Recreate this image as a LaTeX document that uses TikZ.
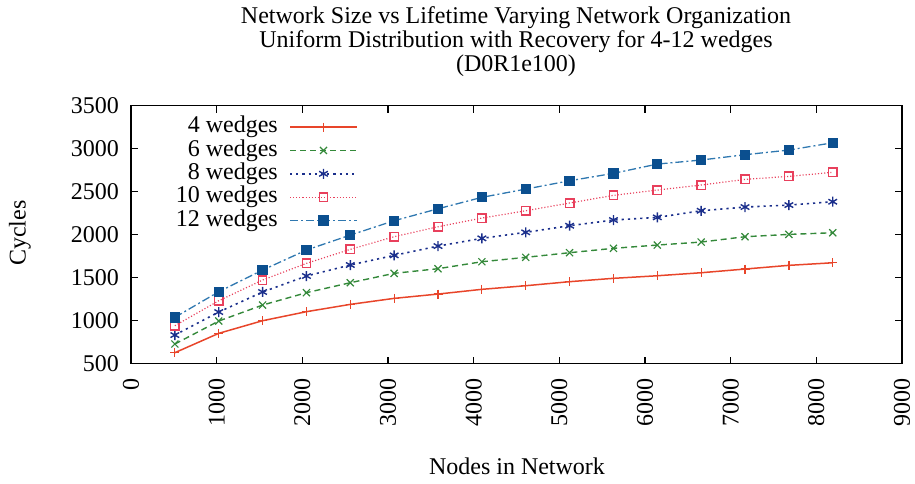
\documentclass[tikz,border=0pt]{standalone}
\usepackage{fontspec}
\setmainfont{Liberation Serif}
\usetikzlibrary{plotmarks}

\definecolor{cfour}{HTML}{E8452A}
\definecolor{csix}{HTML}{34893A}
\definecolor{ceight}{HTML}{1B2F8C}
\definecolor{cten}{HTML}{E8405C}
\definecolor{ctwelve}{HTML}{2F78B0}
\definecolor{ctwelvemk}{HTML}{0B4F8F}

\tikzset{
  lbl/.style={font=\fontsize{24}{24}\selectfont, inner sep=0pt},
  axisline/.style={line width=1.5pt, black},
  tickline/.style={line width=1.3pt, black},
  sfour/.style={cfour, line width=1.5pt, mark=+, mark size=4.5pt,
    mark options={solid, draw=cfour, line width=1.2pt}},
  ssix/.style={csix, line width=1.4pt, dash pattern=on 6pt off 4pt,
    mark=x, mark size=5pt, mark options={solid, draw=csix, line width=1.2pt}},
  seight/.style={ceight, line width=1.6pt, dash pattern=on 2.2pt off 4pt,
    mark=asterisk, mark size=5pt, mark options={solid, draw=ceight, line width=1.4pt}},
  sten/.style={cten, line width=1.2pt, dash pattern=on 1.1pt off 2pt,
    mark=square, mark size=4.2pt, mark options={solid, draw=cten, line width=1.4pt}},
  stwelve/.style={ctwelve, line width=1.3pt, dash pattern=on 8pt off 3pt on 2pt off 3pt,
    mark=square*, mark size=4.5pt, mark options={solid, draw=ctwelvemk, fill=ctwelvemk}},
}

\begin{document}
\begin{tikzpicture}[x=1pt, y=-1pt]
  \useasboundingbox (0,0) rectangle (915,483);

  % title
  \node[lbl, align=center] (title) at (516,42)
    {Network Size vs Lifetime Varying Network Organization\\
     Uniform Distribution with Recovery for 4-12 wedges\\
     (D0R1e100)};

  % axis labels
  \node[lbl, rotate=90] (ylab) at (20,233) {Cycles};
  \node[lbl] (xlab) at (517,466) {Nodes in Network};

  % frame
  \draw[axisline] (131,105.6) rectangle (902,363.5);

  \begin{scope}[shift={(131,406.5)}, x=0.085667pt, y=0.08597pt]
    % ticks and tick labels
    \foreach \v in {500,1000,...,3500}{
      \draw[tickline] (0,\v) -- ++(7pt,0);
      \draw[tickline] (9000,\v) -- ++(-7pt,0);
      \node[lbl, anchor=east] (yt\v) at ([xshift=-12pt]0,\v) {\v};
    }
    \foreach \v in {0,1000,...,9000}{
      \draw[tickline] (\v,500) -- ++(0,7pt);
      \draw[tickline] (\v,3500) -- ++(0,-7pt);
      \node[lbl, rotate=90, anchor=east] (xt\v) at ([yshift=-15pt]\v,500) {\v};
    }

    % data
    \draw[sfour] plot coordinates {(512,626) (1024,851) (1536,998) (2048,1103)
      (2560,1188) (3072,1258) (3584,1308) (4096,1363) (4608,1405) (5120,1452)
      (5632,1491) (6144,1521) (6656,1556) (7168,1599) (7680,1642) (8192,1672)};
    \draw[ssix] plot coordinates {(512,727) (1024,994) (1536,1180) (2048,1324)
      (2560,1440) (3072,1549) (3584,1603) (4096,1684) (4608,1735) (5120,1789)
      (5632,1840) (6144,1878) (6656,1913) (7168,1975) (7680,2002) (8192,2021)};
    \draw[seight] plot coordinates {(512,831) (1024,1099) (1536,1332) (2048,1518)
      (2560,1646) (3072,1758) (3584,1866) (4096,1956) (4608,2026) (5120,2103)
      (5632,2169) (6144,2200) (6656,2277) (7168,2320) (7680,2343) (8192,2382)};
    \draw[sten] plot coordinates {(512,940) (1024,1230) (1536,1471) (2048,1665)
      (2560,1828) (3072,1975) (3584,2091) (4096,2192) (4608,2277) (5120,2367)
      (5632,2456) (6144,2518) (6656,2576) (7168,2642) (7680,2677) (8192,2724)};
    \draw[stwelve] plot coordinates {(512,1037) (1024,1335) (1536,1587) (2048,1820)
      (2560,1994) (3072,2161) (3584,2300) (4096,2433) (4608,2529) (5120,2626)
      (5632,2712) (6144,2820) (6656,2867) (7168,2929) (7680,2983) (8192,3068)};
  \end{scope}

  % legend
  \foreach \name/\st/\yy in {4 wedges/sfour/127, 6 wedges/ssix/150.4,
      8 wedges/seight/173.8, 10 wedges/sten/197.2, 12 wedges/stwelve/220.6}{
    \node[lbl, anchor=east] at (278,\yy) {\name};
    \draw[\st, mark=none] (290,\yy) -- (357,\yy);
    \path[\st] plot[only marks] coordinates {(323.5,\yy)};
  }
\end{tikzpicture}
\end{document}
